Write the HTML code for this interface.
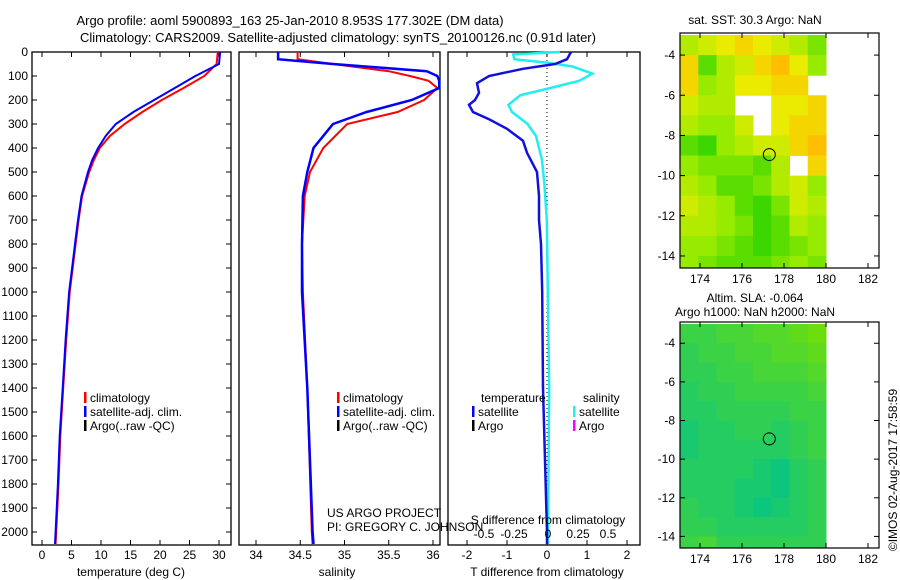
<!DOCTYPE html>
<html><head><meta charset="utf-8"><style>
body{margin:0;background:#fff}
svg{display:block;font-family:"Liberation Sans",sans-serif;font-size:12px}
</style></head><body>
<svg id="c" width="900" height="580" xmlns="http://www.w3.org/2000/svg">
<defs>
<clipPath id="clipTop"><rect x="680" y="33" width="199" height="235"/></clipPath>
<clipPath id="clipBot"><rect x="680" y="322" width="199" height="226"/></clipPath>
</defs>
<g>
<text x="290" y="25" text-anchor="middle" font-size="13">Argo profile: aoml 5900893_163 25-Jan-2010 8.953S 177.302E (DM data)</text>
<text x="338" y="42" text-anchor="middle" font-size="13">Climatology: CARS2009. Satellite-adjusted climatology: synTS_20100126.nc (0.91d later)</text>
<text x="755" y="24" text-anchor="middle">sat. SST: 30.3 Argo: NaN</text>
<text x="755" y="302" text-anchor="middle">Altim. SLA: -0.064</text>
<text x="755" y="316" text-anchor="middle">Argo h1000: NaN h2000: NaN</text>
<text transform="translate(897,470) rotate(-90)" text-anchor="middle">©IMOS 02-Aug-2017 17:58:59</text>
<text x="327" y="517">US ARGO PROJECT</text>
<text x="327" y="531">PI: GREGORY C. JOHNSON</text>
</g>
<g id="g"></g>
</svg>
<script>
// depth grid (m)
const depthsT = [0,50,100,150,200,250,300,350,400,450,500,600,700,800,900,1000,1200,1400,1600,1800,2000,2050];
const tempClim = [29.8,29.6,27.5,24,20.3,17,14,11.5,9.8,8.8,8,6.8,6.2,5.7,5.2,4.7,4.1,3.6,3.1,2.8,2.4,2.3];
const tempSat  = [30.2,30,26,22.5,19,15.5,12.5,10.8,9.5,8.5,7.8,6.7,6.1,5.6,5.1,4.6,4.0,3.5,3.0,2.7,2.3,2.2];
const depthsS = [0,30,50,80,100,120,150,200,250,300,400,500,600,800,1000,1400,2000,2050];
const salClim = [34.47,34.47,34.87,35.5,35.74,35.95,36.05,35.9,35.6,35.03,34.76,34.61,34.55,34.52,34.53,34.58,34.63,34.64];
const salSat  = [34.25,34.25,34.87,35.93,36.05,36.07,36.07,35.76,35.25,34.87,34.65,34.58,34.53,34.52,34.52,34.58,34.64,34.65];
const depthsD = [0,30,50,70,100,130,170,200,220,250,280,320,370,420,500,600,700,800,1000,1400,2000,2050];
const tDiff = [0.6,0.5,0.2,-0.6,-1.45,-1.75,-1.7,-1.8,-1.95,-1.85,-1.45,-1.0,-0.6,-0.5,-0.25,-0.2,-0.2,-0.15,-0.12,-0.1,0,0];
const depthsSD = [0,10,30,45,60,90,120,150,180,220,250,300,350,450,550,700,1400,2000,2050];
const sDiff = [0.1,-0.29,-0.28,0,0.2,0.37,0.26,0.02,-0.23,-0.33,-0.3,-0.17,-0.1,-0.05,-0.03,-0.01,0.01,0,0];
const depthTicks = [0,100,200,300,400,500,600,700,800,900,1000,1100,1200,1300,1400,1500,1600,1700,1800,1900,2000];
const tempTicks = [0,5,10,15,20,25,30];
const salTicks = [34,34.5,35,35.5,36];
const tdTicks = [-2,-1,0,1,2];
const sdTicks = [-0.5,-0.25,0,0.25,0.5];
const lonTicks = [174,176,178,180,182];
const latTicks = [-4,-6,-8,-10,-12,-14];
// SST map grid (0=green..1=orange, null=no data), rows -3..-15 lat, cols 172.9..180 lon
const sstGrid = [
[.6,.7,.8,.9,.8,.7,.6,.4],[.9,.3,.6,.7,.9,1,.8,.5],[.9,.5,.6,.8,.8,.9,.9,null],
[.7,.6,.6,null,null,.8,.8,.9],[.6,.5,.5,.7,null,.8,.9,.9],[.3,.2,.5,.6,.7,.7,.9,1],
[.5,.4,.4,.4,.3,.6,null,.9],[.6,.5,.3,.3,.4,.6,.7,.5],[.7,.6,.5,.3,.2,.4,.7,.6],
[.6,.6,.5,.4,.2,.3,.6,.5],[.5,.5,.4,.3,.2,.3,.4,.5],[.5,.4,.3,.3,.3,.4,.5,.4]];
const slaGrid = [
[.5,.5,.6,.6,.7,.7,.8,.9],[.4,.5,.5,.6,.6,.7,.7,.8],[.4,.4,.5,.5,.6,.6,.6,.7],
[.3,.4,.4,.5,.5,.5,.5,.6],[.3,.3,.4,.4,.4,.4,.5,.5],[.2,.3,.3,.4,.4,.3,.4,.5],
[.2,.3,.3,.3,.3,.3,.4,.5],[.3,.3,.3,.3,.2,.1,.3,.4],[.3,.3,.3,.2,.2,.1,.3,.4],
[.4,.3,.3,.2,.1,.2,.3,.4],[.4,.4,.3,.3,.3,.3,.3,.4],[.5,.6,.4,.4,.4,.4,.4,.4]];

const NS="http://www.w3.org/2000/svg", G=document.getElementById('g');
function mk(t,a,p){const e=document.createElementNS(NS,t);for(const k in a)e.setAttribute(k,a[k]);(p||G).appendChild(e);return e;}
const yD = d => 52 + d*0.24;
const xT = v => 42 + v*5.9;
const xS = v => 256 + (v-34)*88.5;
const xTD = v => 547 + v*40;
const xSD = v => 548 + v*120;
function line(xs,ds,xf,col,w,name){
  const pts = xs.map((v,i)=>xf(v).toFixed(1)+','+yD(ds[i]).toFixed(1)).join(' ');
  const e = mk('polyline',{points:pts,fill:'none',stroke:col,'stroke-width':w});
  
  
}
function panel(x0,x1,name){
  const r = mk('rect',{x:x0,y:52,width:x1-x0,height:493,fill:'none',stroke:'#000','stroke-width':1.3});
  
  
}
function xticks(vals,f,lab,yl){
  vals.forEach(v=>{const x=f(v);
    mk('line',{x1:x,x2:x,y1:52,y2:57,stroke:'#000'});
    mk('line',{x1:x,x2:x,y1:545,y2:540,stroke:'#000'});
    if(lab){const t=mk('text',{x:x,y:yl||559,'text-anchor':'middle'});t.textContent=v;
      
      }
  });
}
// panel 1
panel(32,231,'temperature-panel');
depthTicks.forEach(d=>{const y=yD(d);
  mk('line',{x1:32,x2:37,y1:y,y2:y,stroke:'#000'});mk('line',{x1:231,x2:226,y1:y,y2:y,stroke:'#000'});
  const t=mk('text',{x:28,y:y+4,'text-anchor':'end'});t.textContent=d;
  
  
});
xticks(tempTicks,xT,true);
line(tempClim,depthsT,xT,'#f00',2,'temp-climatology-line');
line(tempSat,depthsT,xT,'#00f',2,'temp-satellite-line');
// panel 2
panel(239,440,'salinity-panel');
xticks(salTicks,xS,true);
line(salClim,depthsS,xS,'#f00',2,'salinity-climatology-line');
line(salSat,depthsS,xS,'#00f',2.5,'salinity-satellite-line');
// panel 3
panel(448,640,'difference-panel');
xticks(tdTicks,xTD,true);
mk('line',{x1:547,x2:547,y1:52,y2:545,stroke:'#000','stroke-dasharray':'1,3'});
line(sDiff,depthsSD,xSD,'#2ee',2.5,'salinity-diff-line');
line(tDiff,depthsD,xTD,'#11d',2.5,'temperature-diff-line');
sdTicks.forEach(v=>{const t=mk('text',{x:xSD(v)+(v<0?-4:0),y:538,'text-anchor':'middle'});t.textContent=v;
  
  });
// axis titles
[['temperature (deg C)',131,'temperature-axis-title'],['salinity',337,'salinity-axis-title'],['T difference from climatology',547,'t-diff-axis-title']].forEach(a=>{
  const t=mk('text',{x:a[1],y:576,'text-anchor':'middle'});t.textContent=a[0];
  
  });
{const t=mk('text',{x:548,y:524,'text-anchor':'middle'});t.textContent='S difference from climatology';
  
  }
// legends
function leg(x,y,col,txt,name){mk('rect',{x:x,y:y-10,width:2.5,height:11,fill:col});
  const t=mk('text',{x:x+6,y:y});t.textContent=txt;
  
  }
[[84,'temperature'],[337,'salinity']].forEach(p=>{
  leg(p[0],402,'#f00','climatology','legend-climatology');
  leg(p[0],416,'#00f','satellite-adj. clim.','legend-satellite');
  leg(p[0],430,'#000','Argo(..raw -QC)','legend-argo');
});
{const t=mk('text',{x:481,y:402});t.textContent='temperature';
 
 
 const u=mk('text',{x:583,y:402});u.textContent='salinity';
 
 }
leg(472,416,'#00f','satellite','legend-t-satellite');
leg(472,430,'#000','Argo','legend-t-argo');
leg(573,416,'#2ee','satellite','legend-s-satellite');
leg(573,430,'#f0f','Argo','legend-s-argo');
// maps
const xL = lon => 700 + (lon-174)*21;
function colSST(v){const stops=[[0,[0,200,0]],[.5,[150,235,0]],[.8,[235,235,0]],[1,[255,190,0]]];
  for(let i=1;i<stops.length;i++){if(v<=stops[i][0]){const a=stops[i-1],b=stops[i],f=(v-a[0])/(b[0]-a[0]);
  return 'rgb('+a[1].map((c,k)=>Math.round(c+(b[1][k]-c)*f)).join(',')+')';}}return 'rgb(255,190,0)';}
function colSLA(v){const a=[0,195,140],b=[120,225,0];return 'rgb('+a.map((c,k)=>Math.round(c+(b[k]-c)*v)).join(',')+')';}
function map(top,bot,latTop,latBot,grid,cf,name,clip){
  const yL = lat => top + (latTop-lat)*(bot-top)/(latTop-latBot);
  const lon0=173.05, dlon=(180-lon0)/8;
  const cg = mk('g',{'clip-path':'url(#'+clip+')'});
  grid.forEach((row,r)=>row.forEach((v,c)=>{ if(v===null) return;
    const x=xL(lon0+c*dlon), y=yL(-3-r);
    const e=mk('rect',{x:x,y:y,width:xL(lon0+(c+1)*dlon)-x+0.5,height:yL(-4-r)-y+0.5,fill:cf(v)},cg);
    
    
  }));
  const b=mk('rect',{x:680,y:top,width:199,height:bot-top,fill:'none',stroke:'#000','stroke-width':1.2});
  
  
  lonTicks.forEach(l=>{const x=xL(l);mk('line',{x1:x,x2:x,y1:top,y2:top+5,stroke:'#000'});mk('line',{x1:x,x2:x,y1:bot,y2:bot-5,stroke:'#000'});
    const t=mk('text',{x:x,y:bot+15,'text-anchor':'middle'});t.textContent=l;
    
    });
  latTicks.forEach(l=>{const y=yL(l);mk('line',{x1:680,x2:685,y1:y,y2:y,stroke:'#000'});mk('line',{x1:879,x2:874,y1:y,y2:y,stroke:'#000'});
    const t=mk('text',{x:675,y:y+4,'text-anchor':'end'});t.textContent=l;
    
    });
  const c=mk('circle',{cx:xL(177.3),cy:yL(-8.953),r:6,fill:'none',stroke:'#000'});
  
  
}
map(33,268,-2.9,-14.6,sstGrid,colSST,'sst-map','clipTop');
map(322,548,-2.9,-14.6,slaGrid,colSLA,'sla-map','clipBot');
</script>
</body></html>
